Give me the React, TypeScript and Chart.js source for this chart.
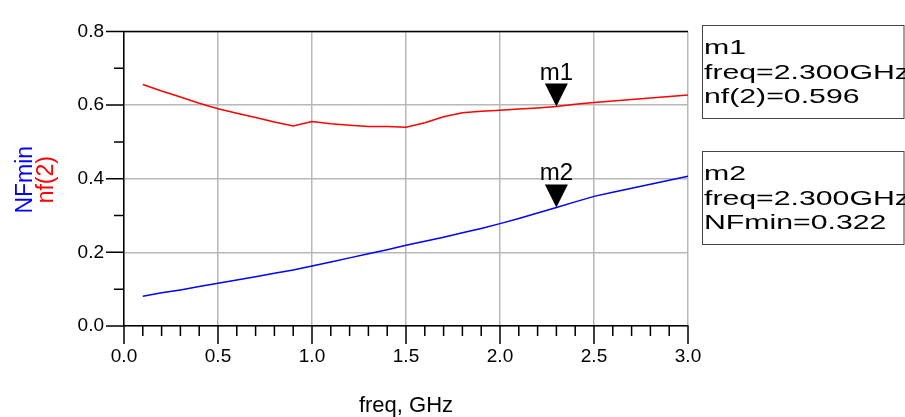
import React, { useEffect, useRef } from "react";
import { Chart, registerables } from "chart.js";

Chart.register(...registerables);

// ---- data ----
const freqs = [0.1, 0.2, 0.3, 0.4, 0.5, 0.6, 0.7, 0.8, 0.9, 1.0, 1.1, 1.2, 1.3, 1.4, 1.5, 1.6, 1.7, 1.8, 1.9, 2.0, 2.1, 2.2, 2.3, 2.4, 2.5, 2.6, 2.7, 2.8, 2.9, 3.0];
const nf2Values = [0.656, 0.638, 0.622, 0.605, 0.590, 0.578, 0.566, 0.554, 0.543, 0.555, 0.549, 0.545, 0.542, 0.542, 0.540, 0.552, 0.568, 0.579, 0.583, 0.586, 0.589, 0.592, 0.596, 0.602, 0.607, 0.611, 0.615, 0.619, 0.623, 0.627];
const nfMinValues = [0.081, 0.090, 0.098, 0.107, 0.116, 0.125, 0.134, 0.143, 0.152, 0.163, 0.174, 0.185, 0.196, 0.207, 0.219, 0.230, 0.241, 0.253, 0.265, 0.278, 0.292, 0.307, 0.322, 0.337, 0.352, 0.363, 0.374, 0.385, 0.396, 0.407];
const markerNames = ["m1", "m2"];
const markerFreqs = [2.3, 2.3];
const markerSeriesNames = ["nf(2)", "NFmin"];
const xTitle = "freq, GHz";

const FONT = '"Liberation Sans", Arial, sans-serif';

const isMajorX = (v: number) => Math.round(v * 10) % 5 === 0;
const isMajorY = (v: number) => Math.round(v * 10) % 2 === 0;

const overlayPlugin = {
  id: "overlay",
  afterDraw(chart: any) {
    const { ctx, chartArea: a } = chart;
    const xs = chart.scales.x;
    const ys = chart.scales.y;
    ctx.save();
    // top frame line
    ctx.strokeStyle = "#000";
    ctx.lineWidth = 1.5;
    ctx.beginPath();
    ctx.moveTo(a.left, a.top);
    ctx.lineTo(a.right, a.top);
    ctx.stroke();
    // outward tick marks
    ctx.beginPath();
    xs.ticks.forEach((t: any) => {
      const px = xs.getPixelForValue(t.value);
      ctx.moveTo(px, a.bottom);
      ctx.lineTo(px, a.bottom + (isMajorX(t.value) ? 18 : 10));
    });
    ys.ticks.forEach((t: any) => {
      const py = ys.getPixelForValue(t.value);
      ctx.moveTo(a.left, py);
      ctx.lineTo(a.left - (isMajorY(t.value) ? 18 : 10), py);
    });
    ctx.stroke();

    // y axis titles (rotated)
    ctx.font = `23px ${FONT}`;
    ctx.textAlign = "center";
    ctx.textBaseline = "alphabetic";
    const cy = (a.top + a.bottom) / 2 + 1;
    ctx.save();
    ctx.translate(32, cy);
    ctx.rotate(-Math.PI / 2);
    ctx.fillStyle = "#0000ff";
    ctx.fillText("NFmin", 0, 0);
    ctx.restore();
    ctx.save();
    ctx.translate(53, cy);
    ctx.rotate(-Math.PI / 2);
    ctx.fillStyle = "#ff0000";
    ctx.fillText("nf(2)", 0, 0);
    ctx.restore();

    // x axis title
    ctx.font = `22px ${FONT}`;
    ctx.fillStyle = "#000";
    ctx.fillText(xTitle, (a.left + a.right) / 2, 412);

    // markers
    const seriesArrays = [nf2Values, nfMinValues];
    markerNames.forEach((name, i) => {
      const f = markerFreqs[i];
      const idx = freqs.indexOf(f);
      const val = seriesArrays[i][idx];
      const px = xs.getPixelForValue(f);
      const py = ys.getPixelForValue(val);
      ctx.fillStyle = "#000";
      ctx.beginPath();
      ctx.moveTo(px, py);
      ctx.lineTo(px - 11.5, py - 23);
      ctx.lineTo(px + 11.5, py - 23);
      ctx.closePath();
      ctx.fill();
      ctx.font = `24px ${FONT}`;
      ctx.textAlign = "center";
      ctx.fillText(name, px, py - 27);

      // readout box
      const top = 25 + i * 126;
      ctx.strokeStyle = "#444";
      ctx.lineWidth = 1;
      ctx.strokeRect(702.5, top + 0.5, 201.5, 93);
      const lines = [name, `freq=${f.toFixed(3)}GHz`, `${markerSeriesNames[i]}=${val.toFixed(3)}`];
      ctx.font = `21px ${FONT}`;
      ctx.textAlign = "left";
      lines.forEach((ln, k) => {
        ctx.save();
        ctx.translate(704, top + 29 + k * 24.5);
        ctx.scale(1.44, 1);
        ctx.fillText(ln, 0, 0);
        ctx.restore();
      });
    });
    ctx.restore();
  },
};

export default function App() {
  const ref = useRef<HTMLCanvasElement | null>(null);
  useEffect(() => {
    if (!ref.current) return;
    const chart = new Chart(ref.current, {
      type: "line",
      data: {
        datasets: [
          {
            label: "nf(2)",
            data: freqs.map((f, i) => ({ x: f, y: nf2Values[i] })),
            borderColor: "#ff0000",
            borderWidth: 1.5,
            pointRadius: 0,
            tension: 0,
          },
          {
            label: "NFmin",
            data: freqs.map((f, i) => ({ x: f, y: nfMinValues[i] })),
            borderColor: "#0000ff",
            borderWidth: 1.5,
            pointRadius: 0,
            tension: 0,
          },
        ],
      },
      options: {
        responsive: false,
        animation: false,
        devicePixelRatio: 1,
        layout: { padding: { left: 0, top: 24, right: 217, bottom: 0 } },
        plugins: { legend: { display: false }, tooltip: { enabled: false } },
        scales: {
          x: {
            type: "linear",
            min: 0,
            max: 3,
            afterFit: (s: any) => {
              s.height = 91;
            },
            ticks: {
              stepSize: 0.1,
              autoSkip: false,
              maxRotation: 0,
              padding: 19,
              color: "#000",
              font: { family: FONT, size: 19 },
              callback: (v: any) => (isMajorX(Number(v)) ? Number(v).toFixed(1) : ""),
            },
            grid: {
              drawTicks: false,
              lineWidth: 1.5,
              color: (c: any) => (c.tick && isMajorX(c.tick.value) ? "#b8b8b8" : "rgba(0,0,0,0)"),
            },
            border: { display: true, color: "#000", width: 1.5 },
          },
          y: {
            type: "linear",
            min: 0,
            max: 0.8,
            afterFit: (s: any) => {
              s.width = 124;
            },
            ticks: {
              stepSize: 0.1,
              autoSkip: false,
              padding: 20,
              color: "#000",
              font: { family: FONT, size: 19 },
              callback: (v: any) => (isMajorY(Number(v)) ? Number(v).toFixed(1) : ""),
            },
            grid: {
              drawTicks: false,
              lineWidth: 1.5,
              color: (c: any) => (c.tick && isMajorY(c.tick.value) ? "#b8b8b8" : "rgba(0,0,0,0)"),
            },
            border: { display: true, color: "#000", width: 1.5 },
          },
        },
      },
      plugins: [overlayPlugin],
    });
    return () => chart.destroy();
  }, []);
  return (
    <div style={{ position: "fixed", left: 0, top: 0, width: 905, height: 417, background: "#fff" }}>
      <canvas ref={ref} width={905} height={417} style={{ display: "block" }} />
    </div>
  );
}
